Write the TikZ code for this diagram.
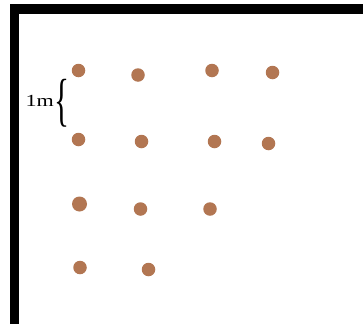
\documentclass[tikz,border=0pt]{standalone}
\usepackage{fontspec}
\setmainfont{Liberation Serif}
\definecolor{dotbrown}{RGB}{178,118,82}
\begin{document}
\begin{tikzpicture}[x=1pt,y=-1pt,
  seed/.style={circle,fill=dotbrown,inner sep=0pt,minimum size=13.5pt},
  bigseed/.style={seed,minimum size=15pt},
  frameband/.style={fill=black,draw=none}]
\useasboundingbox[fill=white] (0,0) rectangle (363,324);
% frame
\fill[frameband] (10,4) rectangle (363,14);
\fill[frameband] (10,4) rectangle (19,324);
% row 1
\node[seed] (a1) at (78.5,70.5) {};
\node[seed] (a2) at (138,75) {};
\node[seed] (a3) at (212,70.5) {};
\node[seed] (a4) at (272.5,72.5) {};
% row 2
\node[seed] (b1) at (78.5,139.5) {};
\node[seed] (b2) at (141.5,141.5) {};
\node[seed] (b3) at (214.5,141.5) {};
\node[seed] (b4) at (268.5,143.5) {};
% row 3
\node[bigseed] (c1) at (79.5,204) {};
\node[seed] (c2) at (140.5,209) {};
\node[seed] (c3) at (210,209) {};
% row 4
\node[seed] (d1) at (80,267.5) {};
\node[seed] (d2) at (148.5,269.5) {};
% brace and label
\node[inner sep=0pt] (br) at (61.5,103.5) {\resizebox*{15pt}{48pt}{\{}};
\node[inner sep=0pt,anchor=east,xscale=1.3,font=\fontsize{17pt}{19pt}\selectfont] (lab) at (54,101) {1m};
\end{tikzpicture}
\end{document}
